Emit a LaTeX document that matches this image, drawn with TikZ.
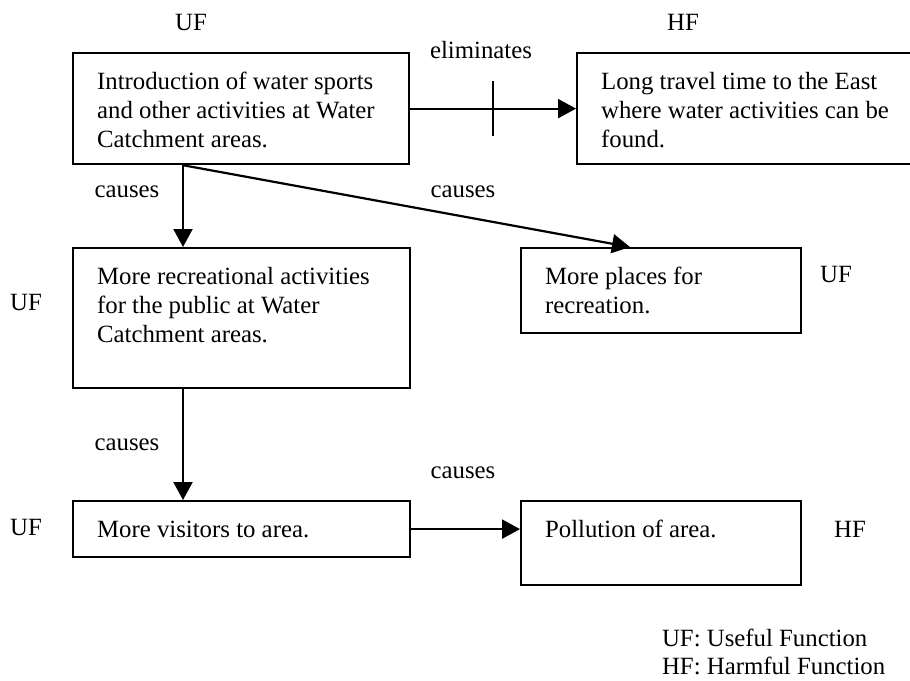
\documentclass[tikz,border=0pt]{standalone}
\usepackage{fontspec}
\setmainfont{Liberation Serif}
\usetikzlibrary{arrows.meta}

\newcommand{\celltext}[3]{\parbox[c][#2][t]{#1}{\raggedright\strut #3}}

\begin{document}
\begin{tikzpicture}[x=0.5pt,y=-0.5pt,
	every node/.style={font=\fontsize{12.4}{14.5}\selectfont},
	fbox/.style={draw, line width=1.1pt, anchor=north west, inner xsep=12pt, inner ysep=8pt},
	link/.style={line width=1.1pt, -{Triangle[length=9pt,width=9.5pt]}},
	tag/.style={anchor=base}]
	\path[use as bounding box, fill=white] (0,0) rectangle (910,680);
		\node[fbox] (intro) at (72,52) {\celltext{144pt}{39.5pt}{Introduction of water sports\\and other activities at Water\\Catchment areas.}};
		\node[fbox] (travel) at (576,52) {\celltext{150pt}{39.5pt}{Long travel time to the East\\where water activities can be\\found.}};
		\node[fbox] (recre) at (72,247) {\celltext{144.5pt}{54pt}{More recreational activities\\for the public at Water\\Catchment areas.}};
		\node[fbox] (places) at (520,247) {\celltext{116pt}{26.5pt}{More places for\\recreation.}};
		\node[fbox] (visit) at (72,500) {\celltext{144.5pt}{12pt}{More visitors to area.}};
		\node[fbox] (pollu) at (520,500) {\celltext{116pt}{26pt}{Pollution of area.}};
	% UF / HF tags and link words
		\node[tag] (ufa) at (191,30) {UF};
		\node[tag] (hfa) at (683,30) {HF};
		\node[tag] (elim) at (481,58) {eliminates};
		\node[tag] (csa) at (127,197) {causes};
		\node[tag] (csb) at (463,197) {causes};
		\node[tag] (ufb) at (26,310) {UF};
		\node[tag] (ufc) at (836,282) {UF};
		\node[tag] (csc) at (127,450) {causes};
		\node[tag] (csd) at (463,478) {causes};
		\node[tag] (ufd) at (26,535) {UF};
		\node[tag] (hfb) at (850,537) {HF};
		\node[anchor=base west] (keyuf) at (655,646) {UF: Useful Function};
		\node[anchor=base west] (keyhf) at (655,674) {HF: Harmful Function};
		\draw[link] (intro.east) -- coordinate[pos=0.5] (cut) (travel.west);
		\draw[line width=1.1pt] ([yshift=13.75pt]cut) -- ([yshift=-13.75pt]cut);
		\draw[link] ([xshift=55.5pt]intro.south west) -- ([xshift=55.5pt]recre.north west);
		\draw[link] ([xshift=55.5pt]intro.south west) -- ([xshift=55pt]places.north west);
		\draw[link] ([xshift=55.5pt]recre.south west) -- ([xshift=55.5pt]visit.north west);
		\draw[link] (visit.east) -- (visit.east -| pollu.west);
	\end{tikzpicture}
\end{document}
